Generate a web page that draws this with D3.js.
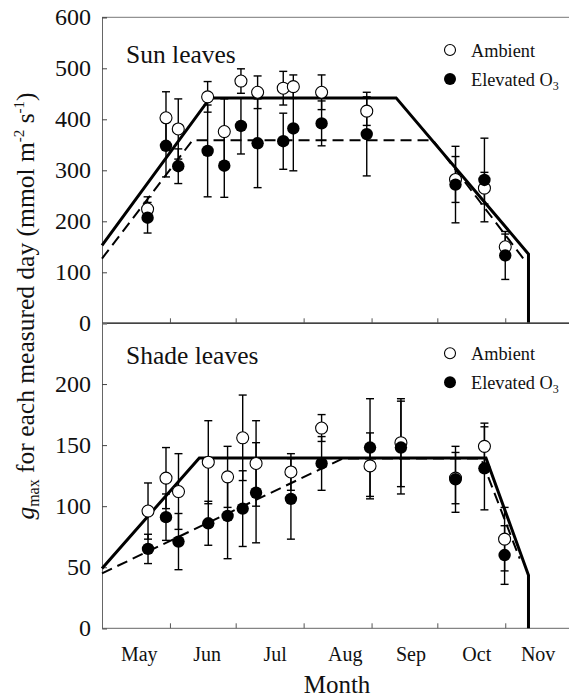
<!DOCTYPE html>
<html>
<head>
<meta charset="utf-8">
<script src="https://cdn.jsdelivr.net/npm/d3@7"></script>
<style>
  html, body { margin: 0; padding: 0; background: #fff; }
  svg { display: block; }
  svg text { font-family: "Liberation Serif", "Times New Roman", Times, serif; }
</style>
</head>
<body>
<svg id="chart" width="569" height="697" font-family="Liberation Serif, Times New Roman, serif"></svg>
<script>
// Measurement days (day of year) and g_max means with standard errors
const sunDays       = [141.8, 150.2, 155.8, 169.2, 176.8, 184.4, 192.0, 203.7, 208.3, 221.2, 241.8, 282.3, 295.5, 305.0];
const sunAmbient    = [224, 403, 381, 444, 376, 475, 453, 461, 464, 453, 416, 282, 265, 150];
const sunAmbientErr = [24, 51, 59, 30, 64, 24, 32, 33, 23, 34, 28, 45, 31, 25];
const sunElevated   = [207, 348, 308, 338, 309, 387, 353, 357, 382, 392, 371, 272, 281, 133];
const sunElevatedErr= [30, 61, 34, 90, 62, 55, 87, 55, 83, 44, 82, 75, 82, 47];

const shadeDays       = [142.0, 150.2, 155.9, 169.5, 178.3, 185.2, 191.3, 207.2, 221.2, 243.3, 257.4, 282.3, 295.5, 304.7];
const shadeAmbient    = [96, 123, 112, 136, 124, 156, 135, 128, 164, 133, 152, 123, 149, 73];
const shadeAmbientErr = [23, 25, 31, 34, 25, 35, 35, 15, 11, 27, 36, 21, 19, 26];
const shadeElevated   = [65, 91, 71, 86, 92, 98, 111, 106, 135, 148, 148, 122, 131, 60];
const shadeElevatedErr= [12, 19, 23, 18, 35, 31, 41, 33, 22, 40, 38, 27, 34, 24];

// Piecewise seasonal fits (day of year, g_max)
const sunAmbientFitDays    = [121, 170.3, 255.2, 315.6, 315.6];
const sunAmbientFitVals    = [153, 442, 442, 136, 0];
const sunElevatedFitDays   = [121, 162.3, 272.0, 313.8];
const sunElevatedFitVals   = [127, 359, 359, 124];
const shadeAmbientFitDays  = [121, 165.4, 296.2, 315.6, 315.6];
const shadeAmbientFitVals  = [49, 139.5, 139.5, 43.5, 0];
const shadeElevatedFitDays = [121, 230.8, 294.0, 311.6];
const shadeElevatedFitVals = [45, 139, 139, 57];

// Axis ticks and month labels
const monthStarts  = [152, 182, 213, 244, 274, 305];
const monthNames   = ["May", "Jun", "Jul", "Aug", "Sep", "Oct", "Nov"];
const monthLabelAt = [138, 169, 200, 232, 262, 292, 320];
const sunTicks     = [0, 100, 200, 300, 400, 500, 600];
const shadeTicks   = [0, 50, 100, 150, 200];

const FONT = "Liberation Serif, Times New Roman, serif";
const svg = d3.select("#chart");

const x = d3.scaleLinear().domain([121, 335]).range([102, 571]);
const ySun = d3.scaleLinear().domain([0, 600]).range([323.3, 17.3]);
const yShade = d3.scaleLinear().domain([0, 250]).range([628.3, 323]);

function zip(days, vals, errs) {
  return days.map((d, i) => ({ d: d, v: vals[i], e: errs ? errs[i] : 0 }));
}

function drawPanel(y, ticks, title, titleY, legendY, amb, elev, ambFit, elevFit) {
  const g = svg.append("g");
  const [y0, y1] = y.range();

  // top frame line
  g.append("line").attr("x1", 102).attr("x2", 569).attr("y1", y1).attr("y2", y1)
    .attr("stroke", "#777").attr("stroke-width", 1);

  // left axis with inward ticks
  const yAxis = d3.axisRight(y).tickValues(ticks).tickSize(5).tickFormat("");
  const ya = g.append("g").attr("transform", "translate(102,0)").call(yAxis);
  ya.select(".domain").attr("stroke", "#666");
  ya.selectAll(".tick line").attr("stroke", "#444");

  g.selectAll(".ylab").data(ticks).join("text")
    .attr("class", "ylab")
    .attr("x", 91).attr("y", d => y(d) + 8)
    .attr("text-anchor", "end")
    .attr("font-family", FONT)
    .attr("font-size", 24).attr("fill", "#111")
    .text(d => d);

  // bottom axis with inward month ticks
  const xAxis = d3.axisTop(x).tickValues(monthStarts).tickSize(5).tickFormat("");
  const xa = g.append("g").attr("transform", `translate(0,${y0})`).call(xAxis);
  xa.select(".domain").remove();
  xa.selectAll(".tick line").attr("stroke", "#555");
  g.append("line").attr("x1", 102).attr("x2", 569).attr("y1", y0).attr("y2", y0)
    .attr("stroke", y0 < 400 ? "#111" : "#666").attr("stroke-width", y0 < 400 ? 1.6 : 1);

  // fitted lines
  const line = d3.line().x(p => x(p.d)).y(p => y(p.v));
  g.append("path").datum(ambFit).attr("d", line)
    .attr("fill", "none").attr("stroke", "#000").attr("stroke-width", 3)
    .attr("stroke-linejoin", "miter");
  g.append("path").datum(elevFit).attr("d", line)
    .attr("fill", "none").attr("stroke", "#000").attr("stroke-width", 2)
    .attr("stroke-dasharray", "11,6");

  // error bars
  const capW = 4;
  [amb, elev].forEach(series => {
    const eb = g.append("g").attr("stroke", "#000").attr("stroke-width", 1.4);
    series.forEach(p => {
      eb.append("line").attr("x1", x(p.d)).attr("x2", x(p.d))
        .attr("y1", y(p.v - p.e)).attr("y2", y(p.v + p.e));
      [p.v - p.e, p.v + p.e].forEach(v => {
        eb.append("line").attr("x1", x(p.d) - capW).attr("x2", x(p.d) + capW)
          .attr("y1", y(v)).attr("y2", y(v));
      });
    });
  });

  // markers
  g.selectAll(".amb").data(amb).join("circle").attr("class", "amb")
    .attr("cx", p => x(p.d)).attr("cy", p => y(p.v)).attr("r", 6)
    .attr("fill", "#fff").attr("stroke", "#000").attr("stroke-width", 1.1);
  g.selectAll(".elev").data(elev).join("circle").attr("class", "elev")
    .attr("cx", p => x(p.d)).attr("cy", p => y(p.v)).attr("r", 6.2)
    .attr("fill", "#000");

  // panel title
  g.append("text").attr("x", 126).attr("y", titleY)
    .attr("font-family", FONT)
    .attr("font-size", 25.5).attr("fill", "#111").text(title);

  // legend
  g.append("circle").attr("cx", 450).attr("cy", legendY).attr("r", 5.5)
    .attr("fill", "#fff").attr("stroke", "#000").attr("stroke-width", 1.1);
  g.append("text").attr("x", 471).attr("y", legendY + 6.5)
    .attr("font-family", FONT)
    .attr("font-size", 18.3).attr("fill", "#111").text("Ambient");
  g.append("circle").attr("cx", 450).attr("cy", legendY + 29).attr("r", 6)
    .attr("fill", "#000");
  const el = g.append("text").attr("x", 471).attr("y", legendY + 35.5)
    .attr("font-family", FONT)
    .attr("font-size", 18.3).attr("fill", "#111");
  el.append("tspan").text("Elevated O");
  el.append("tspan").attr("font-size", 12).attr("dy", 4).text("3");
}

drawPanel(ySun, sunTicks, "Sun leaves", 63, 50,
  zip(sunDays, sunAmbient, sunAmbientErr), zip(sunDays, sunElevated, sunElevatedErr),
  zip(sunAmbientFitDays, sunAmbientFitVals), zip(sunElevatedFitDays, sunElevatedFitVals));

drawPanel(yShade, shadeTicks, "Shade leaves", 364, 353.3,
  zip(shadeDays, shadeAmbient, shadeAmbientErr), zip(shadeDays, shadeElevated, shadeElevatedErr),
  zip(shadeAmbientFitDays, shadeAmbientFitVals), zip(shadeElevatedFitDays, shadeElevatedFitVals));

// month labels
svg.selectAll(".mlab").data(monthNames).join("text")
  .attr("class", "mlab")
  .attr("x", (d, i) => x(monthLabelAt[i])).attr("y", 661)
  .attr("text-anchor", "middle")
  .attr("font-family", FONT)
  .attr("font-size", 20).attr("fill", "#111")
  .text(d => d);

// axis titles
svg.append("text").attr("x", 337).attr("y", 693)
  .attr("text-anchor", "middle")
  .attr("font-family", FONT)
  .attr("font-size", 25).attr("fill", "#111")
  .text("Month");

const yt = svg.append("text")
  .attr("transform", "translate(34,306) rotate(-90)")
  .attr("text-anchor", "middle")
  .attr("font-family", FONT)
  .attr("font-size", 25.5).attr("fill", "#111");
yt.append("tspan").attr("font-style", "italic").text("g");
yt.append("tspan").attr("font-size", 16).attr("dy", 5).text("max");
yt.append("tspan").attr("dy", -5).text(" for each measured day (mmol m");
yt.append("tspan").attr("font-size", 15).attr("dy", -10).text("-2");
yt.append("tspan").attr("dy", 10).text(" s");
yt.append("tspan").attr("font-size", 15).attr("dy", -10).text("-1");
yt.append("tspan").attr("dy", 10).text(")");
</script>
</body>
</html>
